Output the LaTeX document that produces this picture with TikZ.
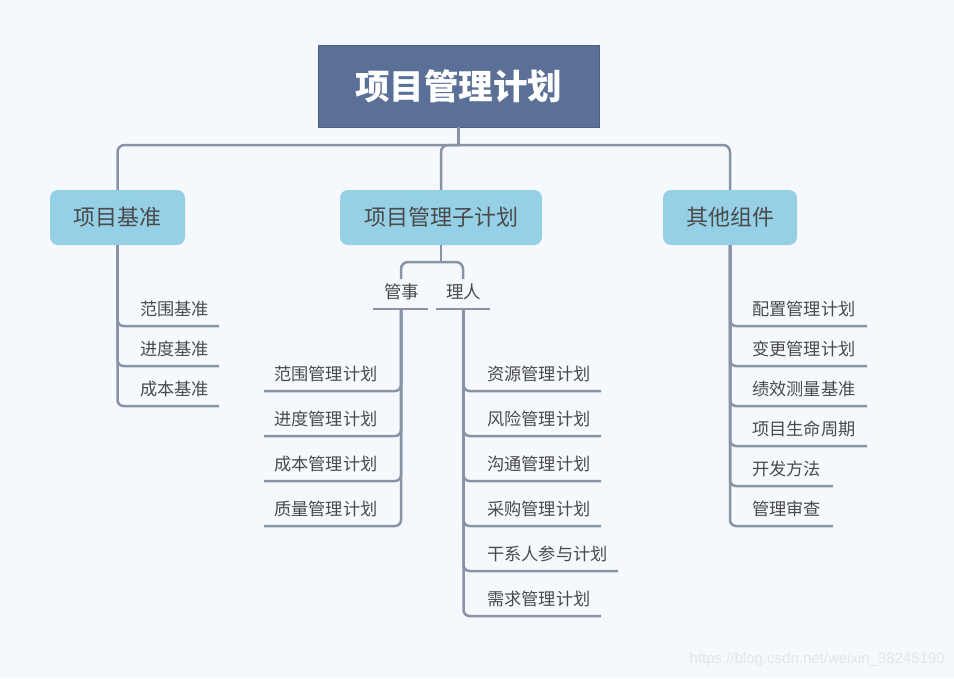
\documentclass[tikz,border=0pt]{standalone}
\usepackage{fontspec}
\newfontfamily\cjk{Noto Sans CJK SC}
\setmainfont{Liberation Sans}
\definecolor{bgc}{HTML}{F5F9FD}
\definecolor{rootc}{HTML}{5B7096}
\definecolor{lvc}{HTML}{95D0E6}
\definecolor{linec}{HTML}{8A93A6}
\definecolor{txtc}{HTML}{4A4A4A}
\definecolor{wmc}{HTML}{E2E6EC}
\tikzset{
  rootbox/.style={fill=rootc,draw=rootc!85!black,line width=0.6pt,minimum width=281pt,minimum height=82pt,text=white,font=\cjk\bfseries\fontsize{34.5}{40}\selectfont,inner sep=0},
  lvbox/.style={fill=lvc,rounded corners=8pt,minimum height=55pt,text=txtc,font=\cjk\fontsize{22}{26}\selectfont,inner sep=0},
  itemtxt/.style={anchor=west,inner sep=0,text=txtc,font=\cjk\fontsize{17.2}{20}\selectfont},
  subtxt/.style={inner sep=0,text=txtc,font=\cjk\fontsize{17.5}{20}\selectfont},
  conn/.style={draw=linec,line width=2.5pt,rounded corners=7pt},
  plainline/.style={draw=linec,line width=2.5pt},
}
\begin{document}
\begin{tikzpicture}[x=1pt,y=-1pt]
\useasboundingbox (0,0) rectangle (954,678);
\fill[bgc] (0,0) rectangle (954,678);

% root
\node[rootbox] (root) at (458.5,86) {项目管理计划};
% level 1
\node[lvbox,minimum width=135pt] (jz) at (117.5,217.5) {项目基准};
\node[lvbox,minimum width=202pt] (zj) at (441,217.5) {项目管理子计划};
\node[lvbox,minimum width=134pt] (qt) at (730,217.5) {其他组件};

\coordinate (hub) at (458.5,145);
\draw[plainline] (root.south) -- (hub);
\draw[conn] (jz.north) |- (hub) -| (qt.north);
\draw[conn] (hub) -| (zj.north);

% 项目基准 items
\node[itemtxt] (a1) at (140,309) {范围基准};
\node[itemtxt] (a2) at (140,349) {进度基准};
\node[itemtxt] (a3) at (140,389) {成本基准};
\coordinate (ae1) at (219,326);
\coordinate (ae2) at (219,366);
\coordinate (ae3) at (219,406);
\draw[conn,rounded corners=6pt] (jz.south) |- (ae1);
\draw[conn,rounded corners=6pt] (jz.south) |- (ae2);
\draw[conn,rounded corners=6pt] (jz.south) |- (ae3);

% 管事 / 理人
\node[subtxt] (gs) at (401.5,292) {管事};
\node[subtxt] (lr) at (463.5,292) {理人};
\coordinate (gsn) at (401,279);
\coordinate (lrn) at (463,279);
\coordinate (hub2) at (441,262);
\draw[plainline] (zj.south) -- (hub2);
\draw[conn] (gsn) |- (hub2) -| (lrn);
\coordinate (gsl) at (373,309);
\coordinate (gsr) at (428,309);
\coordinate (lrl) at (436,309);
\coordinate (lrr) at (490,309);
\draw[plainline] (gsl) -- (gsr);
\draw[plainline] (lrl) -- (lrr);
\coordinate (gsv) at (401,309);
\coordinate (lrv) at (463.5,309);

% 管事 items (left)
\node[itemtxt] (b1) at (274,374) {范围管理计划};
\node[itemtxt] (b2) at (274,419) {进度管理计划};
\node[itemtxt] (b3) at (274,464) {成本管理计划};
\node[itemtxt] (b4) at (274,509) {质量管理计划};
\coordinate (be1) at (264,391);
\coordinate (be2) at (264,436);
\coordinate (be3) at (264,481);
\coordinate (be4) at (264,526);
\foreach \e in {be1,be2,be3,be4}{\draw[conn,rounded corners=6pt] (gsv) |- (\e);}

% 理人 items (right)
\node[itemtxt] (c1) at (487,374) {资源管理计划};
\node[itemtxt] (c2) at (487,419) {风险管理计划};
\node[itemtxt] (c3) at (487,464) {沟通管理计划};
\node[itemtxt] (c4) at (487,509) {采购管理计划};
\node[itemtxt] (c5) at (487,554) {干系人参与计划};
\node[itemtxt] (c6) at (487,599) {需求管理计划};
\coordinate (ce1) at (601,391);
\coordinate (ce2) at (601,436);
\coordinate (ce3) at (601,481);
\coordinate (ce4) at (601,526);
\coordinate (ce5) at (618,571);
\coordinate (ce6) at (601,616);
\foreach \e in {ce1,ce2,ce3,ce4,ce5,ce6}{\draw[conn,rounded corners=6pt] (lrv) |- (\e);}

% 其他组件 items
\node[itemtxt] (d1) at (752,309) {配置管理计划};
\node[itemtxt] (d2) at (752,349) {变更管理计划};
\node[itemtxt] (d3) at (752,389) {绩效测量基准};
\node[itemtxt] (d4) at (752,429) {项目生命周期};
\node[itemtxt] (d5) at (752,469) {开发方法};
\node[itemtxt] (d6) at (752,509) {管理审查};
\coordinate (de1) at (867,326);
\coordinate (de2) at (867,366);
\coordinate (de3) at (867,406);
\coordinate (de4) at (867,446);
\coordinate (de5) at (833,486);
\coordinate (de6) at (833,526);
\foreach \e in {de1,de2,de3,de4,de5,de6}{\draw[conn,rounded corners=6pt] (qt.south) |- (\e);}

% watermark
\node[anchor=east,inner sep=0,text=wmc,font=\fontsize{15}{18}\selectfont] (wm) at (945,660) {https://blog.csdn.net/weixin\_38245190};
\end{tikzpicture}
\end{document}
